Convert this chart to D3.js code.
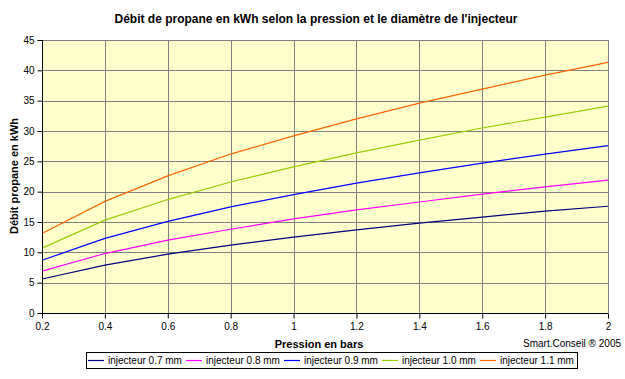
<!DOCTYPE html>
<html><head><meta charset="utf-8">
<script src="https://cdn.jsdelivr.net/npm/d3@7"></script>
<style>
html,body{margin:0;padding:0;background:#fff;}
svg{display:block;font-family:"Liberation Sans",Arial,sans-serif;}
</style></head>
<body><svg id="c" width="625" height="379"></svg>
<script>
const pressions = [0.2,0.4,0.6,0.8,1.0,1.2,1.4,1.6,1.8,2.0];
const seriesNames = ["injecteur 0.7 mm","injecteur 0.8 mm","injecteur 0.9 mm","injecteur 1.0 mm","injecteur 1.1 mm"];
const inj07 = [5.6,7.9,9.7,11.2,12.5,13.7,14.8,15.8,16.8,17.6];
const inj08 = [6.9,9.8,12.0,13.8,15.5,17.0,18.3,19.6,20.8,21.9];
const inj09 = [8.7,12.3,15.1,17.5,19.5,21.4,23.1,24.7,26.2,27.6];
const inj10 = [10.7,15.3,18.7,21.6,24.1,26.4,28.5,30.5,32.3,34.1];
const inj11 = [13.1,18.4,22.6,26.2,29.2,32.0,34.6,36.9,39.2,41.3];
const xTicks = [0.2,0.4,0.6,0.8,1,1.2,1.4,1.6,1.8,2];
const yTicks = [0,5,10,15,20,25,30,35,40,45];
const colors = ["#000080","#FF00FF","#0000FF","#99CC00","#FF6600"];
const allSeries = [inj07,inj08,inj09,inj10,inj11];

const svg = d3.select("#c");
const L=42,R=608,T=40,B=313;
const x = d3.scaleLinear().domain([0.2,2]).range([L,R]);
const y = d3.scaleLinear().domain([0,45]).range([B,T]);

svg.append("rect").attr("x",L).attr("y",T).attr("width",R-L).attr("height",B-T).attr("fill","#FFFFCC");

// grid
svg.append("g").selectAll("line").data(yTicks.slice(1)).join("line")
  .attr("x1",L).attr("x2",R).attr("y1",d=>Math.round(y(d))+0.5).attr("y2",d=>Math.round(y(d))+0.5)
  .attr("stroke","#808080").attr("stroke-width",1);
svg.append("g").selectAll("line").data(xTicks.slice(1)).join("line")
  .attr("x1",d=>Math.round(x(d))+0.5).attr("x2",d=>Math.round(x(d))+0.5).attr("y1",T).attr("y2",B)
  .attr("stroke","#808080").attr("stroke-width",1);

// lines
const line = d3.line().x((d,i)=>x(pressions[i])).y(d=>y(d));
allSeries.forEach((s,k)=>{
  svg.append("path").datum(s).attr("d",line).attr("fill","none")
    .attr("stroke",colors[k]).attr("stroke-width",1.2);
});

// axes
const yAxis = d3.axisLeft(y).tickValues(yTicks).tickSize(5).tickPadding(3);
const gy = svg.append("g").attr("transform",`translate(${L+0.5},0)`).call(yAxis);
const xAxis = d3.axisBottom(x).tickValues(xTicks).tickSize(5).tickPadding(4).tickFormat(d=>d3.format("")(d));
const gx = svg.append("g").attr("transform",`translate(0,${B+0.5})`).call(xAxis);
[gy,gx].forEach(g=>{
  g.selectAll("path").attr("stroke","#000");
  g.selectAll("line").attr("stroke","#000");
  g.selectAll("text").attr("font-size",10).attr("fill","#000").attr("font-family","Liberation Sans, Arial, sans-serif");
});
gy.select(".domain").attr("d",`M0,${T}V${B}`);
gx.select(".domain").attr("d",`M${L},0H${R}`);

// title
svg.append("text").attr("x",316).attr("y",23).attr("text-anchor","middle")
  .attr("font-size",12).attr("font-weight","bold").text("Débit de propane en kWh selon la pression et le diamètre de l'injecteur");
svg.append("text").attr("transform","translate(18,176) rotate(-90)").attr("text-anchor","middle")
  .attr("font-size",11).attr("font-weight","bold").text("Débit propane en kWh");
svg.append("text").attr("x",319).attr("y",348).attr("text-anchor","middle")
  .attr("font-size",11).attr("font-weight","bold").text("Pression en bars");
svg.append("text").attr("x",621).attr("y",347).attr("text-anchor","end")
  .attr("font-size",10).text("Smart.Conseil ® 2005");

// legend
svg.append("rect").attr("x",86.5).attr("y",352.5).attr("width",491).attr("height",16)
  .attr("fill","#fff").attr("stroke","#000").attr("stroke-width",1);
const lg = svg.append("g").selectAll("g").data(seriesNames).join("g")
  .attr("transform",(d,i)=>`translate(${88+i*98},0)`);
lg.append("line").attr("x1",0).attr("x2",16).attr("y1",360.5).attr("y2",360.5)
  .attr("stroke",(d,i)=>colors[i]).attr("stroke-width",1.2);
lg.append("text").attr("x",20).attr("y",364).attr("font-size",10).text(d=>d);
</script></body></html>
